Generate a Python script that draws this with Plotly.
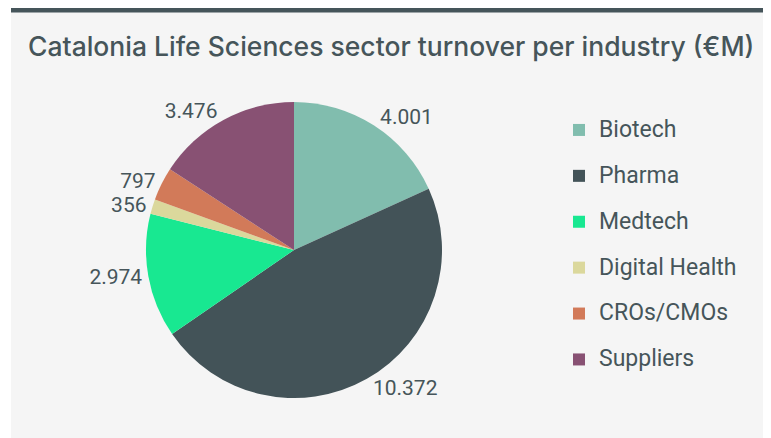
import plotly.graph_objects as go

title = "Catalonia Life Sciences sector turnover per industry (€M)"
industries = ["Biotech", "Pharma", "Medtech", "Digital Health", "CROs/CMOs", "Suppliers"]
turnover = [4001, 10372, 2974, 356, 797, 3476]
colors = ["#81bdae", "#435358", "#18e891", "#dbd89c", "#d27a59", "#885173"]

W, H = 771, 438
TXT = "#46555a"

# legend entries: larger legend font gives the wider row spacing, text drawn at 23px
legend_labels = [
    '<span style="font-size:23px;baseline-shift:6px">%s</span>' % s for s in industries
]

fig = go.Figure(go.Pie(
    labels=legend_labels,
    values=turnover,
    customdata=industries,
    marker=dict(colors=colors, line=dict(width=0)),
    sort=False,
    direction="clockwise",
    rotation=0,
    texttemplate="%{value:,}",
    textposition="outside",
    outsidetextfont=dict(family="Roboto", size=21, color=TXT),
    domain=dict(x=[138 / W, 434 / W], y=[48 / H, 344 / H]),
    hovertemplate="%{customdata}: %{value:,}<extra></extra>",
))

fig.update_layout(
    width=W, height=H,
    margin=dict(l=0, r=0, t=0, b=0),
    paper_bgcolor="white",
    plot_bgcolor="white",
    separators=",.",
    title=dict(
        text=title, x=20 / W, xanchor="left", y=1 - 39 / H, yanchor="middle",
        font=dict(family="Inter", size=26.5, color=TXT, weight=500),
    ),
    legend=dict(
        x=551 / W, xanchor="left", y=1 - 237 / H, yanchor="middle",
        font=dict(family="Roboto", size=33, color=TXT),
        itemwidth=30,
        bgcolor="rgba(0,0,0,0)",
    ),
    shapes=[
        dict(type="rect", xref="paper", yref="paper", x0=3 / W, x1=1, y0=0, y1=1,
             fillcolor="#f5f5f5", line=dict(width=0), layer="below"),
        dict(type="rect", xref="paper", yref="paper", x0=3 / W, x1=1, y0=1 - 4.5 / H, y1=1,
             fillcolor="#45555a", line=dict(width=0), layer="below"),
    ],
)

# the reference shows no leader lines next to the outside labels
post = "document.querySelectorAll('path.textline').forEach(function(e){e.style.display='none';});"
fig.write_html("out.html", post_script=post)
